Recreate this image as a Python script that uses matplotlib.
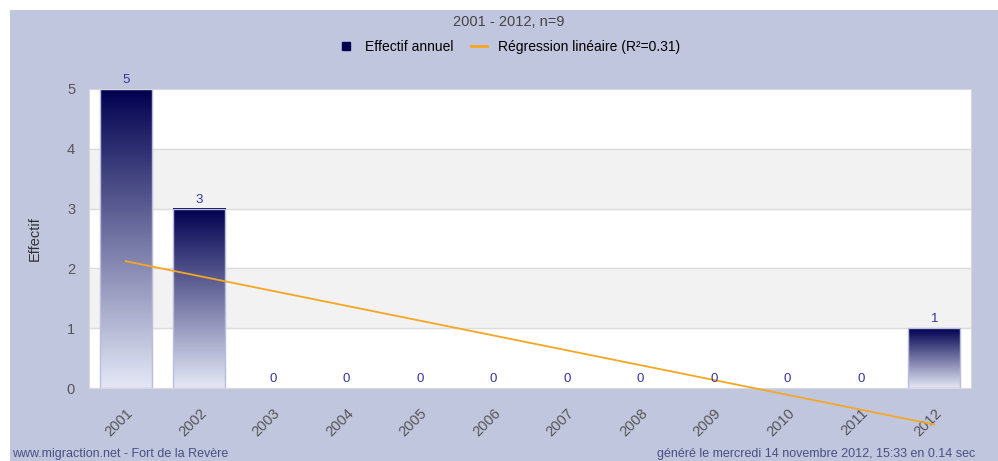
import numpy as np
import matplotlib
matplotlib.use('Agg')
import matplotlib.pyplot as plt
from matplotlib.lines import Line2D
from matplotlib.patches import Rectangle
from matplotlib.colors import LinearSegmentedColormap

years = ['2001', '2002', '2003', '2004', '2005', '2006',
         '2007', '2008', '2009', '2010', '2011', '2012']
effectif = [5, 3, 0, 0, 0, 0, 0, 0, 0, 0, 0, 1]
# regression line end values (first and last year)
regression = [2.12, -0.61]
r2 = 0.31

plt.rcParams['font.family'] = ['Liberation Sans', 'DejaVu Sans']

bg = '#c1c6df'
navy = '#000050'
label_blue = '#3535a0'
orange = '#f5a623'

fig = plt.figure(figsize=(9.98, 4.61), dpi=100)
fig.patch.set_facecolor('white')
fig.patches.append(Rectangle((10 / 998, 0), 1, 1 - 10 / 461,
                             transform=fig.transFigure, facecolor=bg,
                             edgecolor='none', zorder=-10))

ax = fig.add_axes([89 / 998, 1 - 388 / 461, 882 / 998, 299 / 461])
ax.set_facecolor('white')

x = np.arange(len(years))

# alternating bands and grid
for lo in [1, 3]:
	ax.axhspan(lo, lo + 1, color='#f2f2f2', zorder=0)
for yv in [1, 2, 3, 4]:
	ax.axhline(yv, color='#dcdcdc', lw=1, zorder=0.5)

# gradient bars
cmap = LinearSegmentedColormap.from_list('bar', ['#e4e8f6', navy])
grad = np.linspace(0, 1, 256).reshape(-1, 1)
bw = 0.71
for xi, v in zip(x, effectif):
	if v > 0:
		ax.imshow(grad, cmap=cmap, origin='lower', aspect='auto',
		          extent=[xi - bw / 2, xi + bw / 2, 0, v], zorder=1)
		ax.add_patch(Rectangle((xi - bw / 2, 0), bw, v, facecolor='none',
		                       edgecolor='#b8bedc', lw=1, zorder=2))
	ax.text(xi, v + 0.05, str(v), ha='center', va='bottom',
	        color=label_blue, fontsize=9.5, zorder=4)

ax.set_xlim(-0.5, len(years) - 0.5)
ax.set_ylim(0, 5)

ax.plot([x[0], x[-1]], regression, color=orange, lw=1.3, zorder=3,
        clip_on=False)

ax.set_xticks(x)
ax.set_xticklabels(years, rotation=45, ha='right', rotation_mode='anchor',
                   color='#555555', fontsize=10.5)
ax.set_yticks(range(6))
ax.set_yticklabels([str(i) for i in range(6)], color='#555555', fontsize=10.5)
ax.tick_params(axis='x', length=0, pad=13)
ax.tick_params(axis='y', length=0, pad=10)
for s in ax.spines.values():
	s.set_color('#d8d8d8')
ax.set_ylabel('Effectif', color='#333333', fontsize=10.5, labelpad=18)

fig.text(509 / 998, 1 - 22 / 461, '2001 - 2012, n=9', ha='center',
         va='center', color='#444444', fontsize=10.5)

handles = [
	Line2D([], [], marker='s', color=navy, ls='none', markersize=6),
	Line2D([], [], color=orange, lw=2),
]
fig.legend(handles, ['Effectif annuel', 'Régression linéaire (R²=%.2f)' % r2],
           loc='center', bbox_to_anchor=(509 / 998, 1 - 47 / 461), ncol=2,
           frameon=False, fontsize=10, handlelength=1.2, columnspacing=1.2,
           handletextpad=0.8)

fig.text(12 / 998, 1 - 454 / 461, 'www.migraction.net - Fort de la Revère',
         ha='left', va='center', color='#4a4f80', fontsize=9)
fig.text(975 / 998, 1 - 454 / 461,
         'généré le mercredi 14 novembre 2012, 15:33 en 0.14 sec',
         ha='right', va='center', color='#4a4f80', fontsize=9)

fig.savefig('out.png', dpi=100)
